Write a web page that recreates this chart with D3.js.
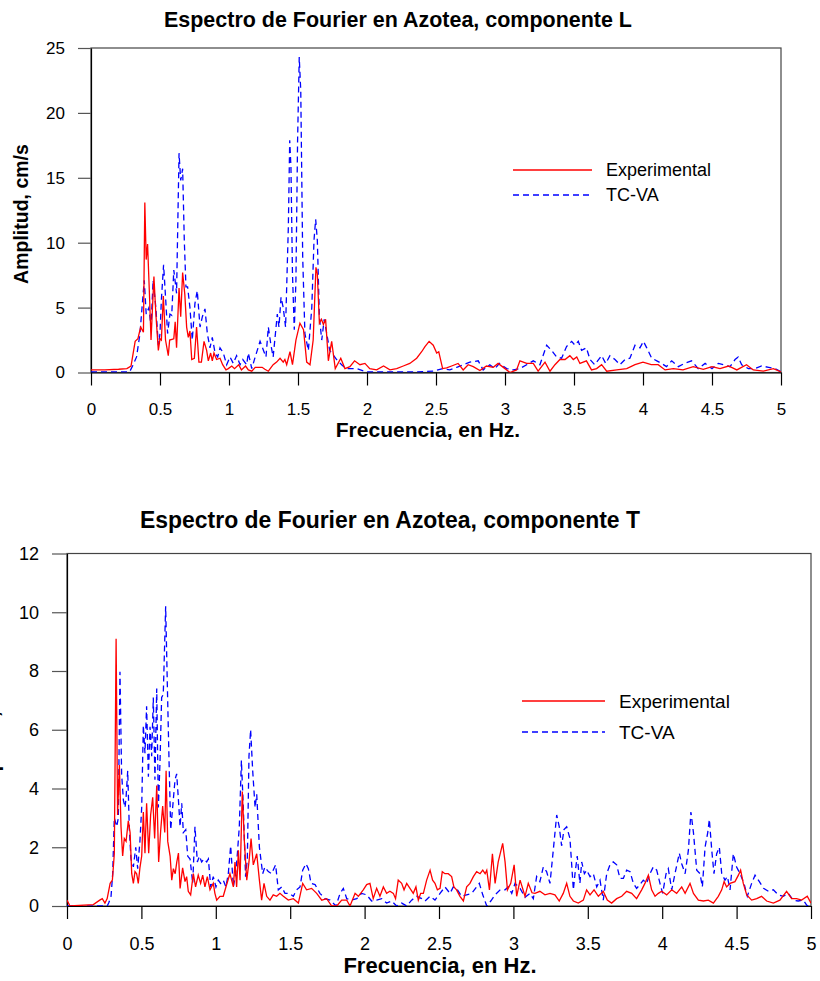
<!DOCTYPE html>
<html><head><meta charset="utf-8">
<script src="https://cdn.jsdelivr.net/npm/d3@7"></script>
<style>
html,body{margin:0;padding:0;background:#fff;}
text{font-family:Arial,"Liberation Sans",sans-serif;fill:#000;}
</style></head><body>
<svg id="chart" width="820" height="981"></svg>
<script>
const xTicks=[0,0.5,1,1.5,2,2.5,3,3.5,4,4.5,5];
const yTicksL=[0,5,10,15,20,25];
const yTicksT=[0,2,4,6,8,10,12];
const seriesNames=["Experimental","TC-VA"];
const titleL="Espectro de Fourier en Azotea, componente L";
const titleT="Espectro de Fourier en Azotea, componente T";
const xTitle="Frecuencia, en Hz.";
const yTitle="Amplitud, cm/s";

// [frecuencia Hz, amplitud cm/s]
const expL=[[0,0.2],[0.1,0.2],[0.2,0.25],[0.26,0.3],[0.29,0.5],[0.32,2.4],[0.34,2.6],[0.36,3.5],[0.38,3.1],[0.39,13.1],[0.40,8.7],[0.41,9.9],[0.425,5.6],[0.435,2.5],[0.456,7.4],[0.47,4.5],[0.488,1.7],[0.50,2.6],[0.51,2.5],[0.524,5.9],[0.54,2.5],[0.56,1.3],[0.57,2.5],[0.60,2.6],[0.61,3.9],[0.62,1.9],[0.638,6.5],[0.65,4.3],[0.664,7.7],[0.68,6.0],[0.693,3.5],[0.705,2.7],[0.717,3.2],[0.73,1.0],[0.749,1.1],[0.765,3.5],[0.782,0.8],[0.80,0.8],[0.819,2.4],[0.838,1.7],[0.85,0.9],[0.867,1.5],[0.879,0.9],[0.891,1.5],[0.91,1.0],[0.935,1.1],[0.954,0.6],[0.978,0.2],[0.995,0.3],[1.02,0.5],[1.04,0.3],[1.07,0.6],[1.09,0.2],[1.12,0.5],[1.14,0.2],[1.165,0.1],[1.19,0.4],[1.24,0.4],[1.26,0.25],[1.285,0.1],[1.32,0.6],[1.345,0.8],[1.37,1.1],[1.393,0.8],[1.405,1.0],[1.418,0.6],[1.442,1.6],[1.46,0.6],[1.485,2.5],[1.514,3.8],[1.54,3.3],[1.563,0.8],[1.587,0.6],[1.61,2.5],[1.63,8.1],[1.64,7.6],[1.655,3.8],[1.67,4.1],[1.684,3.7],[1.70,4.1],[1.72,0.9],[1.744,2.4],[1.77,0.3],[1.81,1.1],[1.84,0.3],[1.876,0.45],[1.91,0.9],[1.949,0.6],[1.985,0.7],[2.02,0.3],[2.07,0.2],[2.12,0.5],[2.166,0.2],[2.215,0.3],[2.263,0.5],[2.31,0.7],[2.36,1.1],[2.396,1.6],[2.42,2.0],[2.45,2.4],[2.48,2.1],[2.505,1.5],[2.52,1.6],[2.548,0.3],[2.577,0.35],[2.613,0.5],[2.66,0.7],[2.697,0.2],[2.733,0.6],[2.77,0.45],[2.818,0.15],[2.866,0.5],[2.915,0.4],[2.95,0.7],[3.0,0.3],[3.036,0.0],[3.084,0.2],[3.108,0.9],[3.157,0.7],[3.205,0.7],[3.24,0.1],[3.29,0.8],[3.326,0.1],[3.362,0.6],[3.398,1.0],[3.435,1.0],[3.47,1.3],[3.495,1.0],[3.52,1.2],[3.543,0.7],[3.59,0.9],[3.627,0.2],[3.664,0.3],[3.7,0.6],[3.737,0.1],[3.81,0.2],[3.882,0.3],[3.942,0.6],[4.0,0.8],[4.06,0.6],[4.11,0.6],[4.16,0.2],[4.22,0.3],[4.29,0.2],[4.364,0.45],[4.437,0.25],[4.5,0.45],[4.558,0.3],[4.62,0.5],[4.68,0.2],[4.75,0.6],[4.799,0.2],[4.872,0.1],[4.945,0.3],[5.0,0.05]];

const tcvaL=[[0,0.05],[0.28,0.05],[0.306,0.6],[0.33,1.2],[0.355,3.0],[0.372,5.3],[0.386,7.1],[0.40,4.5],[0.42,5.0],[0.435,3.5],[0.45,7.1],[0.47,5.0],[0.488,2.1],[0.50,3.0],[0.51,5.6],[0.526,8.3],[0.543,5.3],[0.555,3.0],[0.572,4.5],[0.585,4.4],[0.60,7.9],[0.62,6.1],[0.638,16.9],[0.65,14.8],[0.664,15.7],[0.676,10.2],[0.688,6.6],[0.70,6.6],[0.717,5.0],[0.734,2.5],[0.753,5.3],[0.77,6.3],[0.79,3.5],[0.807,4.3],[0.826,4.9],[0.843,3.0],[0.862,1.9],[0.879,2.7],[0.899,1.5],[0.918,1.2],[0.935,1.9],[0.959,1.5],[0.983,0.6],[1.007,1.2],[1.031,0.7],[1.055,1.3],[1.08,0.6],[1.10,1.0],[1.128,0.6],[1.14,1.5],[1.165,0.3],[1.19,1.2],[1.225,2.4],[1.25,1.7],[1.268,1.2],[1.285,3.5],[1.304,2.1],[1.32,1.2],[1.35,4.5],[1.362,3.5],[1.377,5.8],[1.393,5.0],[1.41,3.5],[1.43,11.2],[1.44,17.9],[1.449,15.8],[1.46,7.6],[1.473,3.3],[1.485,7.1],[1.497,17.9],[1.509,24.3],[1.52,21.7],[1.534,8.9],[1.55,3.0],[1.575,1.7],[1.6,5.0],[1.616,10.2],[1.628,11.8],[1.64,10.2],[1.655,4.3],[1.672,2.5],[1.69,4.1],[1.708,3.0],[1.73,1.7],[1.78,1.0],[1.816,0.6],[1.85,0.3],[1.925,0.3],[1.997,0.05],[2.09,0.05],[2.215,0.05],[2.36,0.05],[2.48,0.1],[2.553,0.3],[2.6,0.2],[2.65,0.4],[2.697,0.6],[2.745,0.8],[2.806,0.9],[2.842,0.2],[2.89,0.6],[2.927,0.3],[2.96,0.7],[3.012,0.3],[3.06,0.2],[3.108,0.3],[3.157,0.6],[3.205,0.9],[3.253,0.6],[3.302,2.1],[3.338,1.7],[3.374,1.2],[3.41,1.1],[3.446,2.0],[3.483,2.4],[3.507,2.1],[3.531,2.4],[3.555,1.7],[3.59,1.9],[3.616,1.0],[3.65,0.6],[3.7,1.3],[3.73,0.7],[3.76,1.3],[3.797,1.0],[3.833,0.6],[3.87,1.0],[3.905,1.1],[3.942,2.1],[3.978,1.9],[4.003,2.4],[4.027,1.9],[4.063,1.1],[4.1,0.9],[4.135,0.7],[4.17,0.45],[4.208,0.9],[4.256,0.45],[4.3,0.7],[4.352,0.9],[4.4,0.3],[4.45,0.7],[4.5,0.3],[4.546,0.7],[4.583,0.6],[4.63,0.45],[4.667,1.0],[4.69,1.2],[4.715,0.6],[4.763,0.3],[4.81,0.3],[4.86,0.5],[4.91,0.4],[4.957,0.3],[5.0,0.05]];

const expT=[[0,0.2],[0.02,0.0],[0.177,0.05],[0.22,0.2],[0.237,0.25],[0.255,0.1],[0.27,0.25],[0.29,0.77],[0.305,0.88],[0.318,1.78],[0.33,9.1],[0.34,3.1],[0.352,4.8],[0.363,2.7],[0.374,1.7],[0.385,2.3],[0.397,2.2],[0.412,2.9],[0.424,2.5],[0.435,1.1],[0.446,0.77],[0.457,1.17],[0.468,1.1],[0.479,0.77],[0.49,1.3],[0.502,1.7],[0.513,3.2],[0.524,1.8],[0.535,3.5],[0.549,1.8],[0.562,3.1],[0.576,3.7],[0.589,2.3],[0.603,4.1],[0.616,1.5],[0.63,2.6],[0.643,3.4],[0.657,2.5],[0.666,4.6],[0.677,2.2],[0.693,1.7],[0.704,0.88],[0.715,1.27],[0.727,1.1],[0.738,1.5],[0.749,1.8],[0.76,0.6],[0.777,1.3],[0.793,0.83],[0.804,1.0],[0.815,0.5],[0.831,0.38],[0.849,1.1],[0.864,0.65],[0.882,1.05],[0.898,0.77],[0.912,1.05],[0.927,0.65],[0.943,1.0],[0.961,0.55],[0.983,0.77],[0.994,0.43],[1.006,0.2],[1.028,0.33],[1.05,0.33],[1.073,0.73],[1.095,1.1],[1.118,0.65],[1.129,1.5],[1.14,0.65],[1.152,1.9],[1.163,0.88],[1.178,3.9],[1.192,2.2],[1.208,0.88],[1.223,1.5],[1.237,2.3],[1.252,1.4],[1.275,1.78],[1.293,0.88],[1.308,0.2],[1.324,0.77],[1.342,0.33],[1.364,0.2],[1.386,0.38],[1.409,0.33],[1.431,0.43],[1.454,0.33],[1.487,0.2],[1.521,0.25],[1.555,0.1],[1.584,0.77],[1.61,0.55],[1.644,0.6],[1.678,0.43],[1.712,0.2],[1.745,0.25],[1.779,0.0],[1.813,0.0],[1.846,0.2],[1.88,0.2],[1.902,0.0],[1.936,0.43],[1.958,0.33],[1.991,0.55],[2.014,0.73],[2.036,0.77],[2.058,0.25],[2.081,0.6],[2.103,0.33],[2.126,0.65],[2.148,0.43],[2.17,0.5],[2.193,0.43],[2.208,0.25],[2.226,0.88],[2.249,0.77],[2.265,0.55],[2.283,0.77],[2.305,0.6],[2.327,0.43],[2.345,0.65],[2.361,0.2],[2.377,0.43],[2.395,0.43],[2.417,0.88],[2.44,1.22],[2.457,0.88],[2.473,0.77],[2.489,0.55],[2.507,0.6],[2.522,1.17],[2.54,1.1],[2.562,1.1],[2.585,1.0],[2.6,0.65],[2.618,0.55],[2.641,0.33],[2.664,0.17],[2.686,0.65],[2.708,0.77],[2.731,1.0],[2.753,1.17],[2.776,1.1],[2.794,1.22],[2.81,1.1],[2.821,1.22],[2.839,0.55],[2.859,1.78],[2.877,0.77],[2.898,1.5],[2.928,2.13],[2.944,1.5],[2.96,0.55],[2.982,0.77],[3.005,1.4],[3.022,0.33],[3.045,0.88],[3.078,0.33],[3.1,0.77],[3.125,0.45],[3.145,0.43],[3.178,0.5],[3.212,0.38],[3.246,0.43],[3.279,0.38],[3.308,0.17],[3.335,0.43],[3.358,0.77],[3.38,0.33],[3.403,0.17],[3.436,0.1],[3.47,0.2],[3.492,0.55],[3.515,0.38],[3.542,0.55],[3.571,0.33],[3.604,0.5],[3.631,0.2],[3.66,0.1],[3.694,0.25],[3.728,0.33],[3.761,0.5],[3.795,0.43],[3.828,0.25],[3.862,0.55],[3.884,0.77],[3.907,1.05],[3.929,0.55],[3.952,0.33],[3.974,0.43],[3.997,0.5],[4.03,0.38],[4.064,0.55],[4.097,0.43],[4.131,0.65],[4.154,0.43],[4.187,0.77],[4.21,0.43],[4.243,0.2],[4.277,0.17],[4.31,0.2],[4.344,0.1],[4.377,0.33],[4.4,0.55],[4.416,0.83],[4.433,0.65],[4.456,0.77],[4.489,0.83],[4.512,1.05],[4.527,1.22],[4.545,0.77],[4.568,0.38],[4.601,0.2],[4.635,0.25],[4.668,0.33],[4.702,0.17],[4.747,0.1],[4.791,0.2],[4.836,0.5],[4.87,0.25],[4.903,0.25],[4.937,0.2],[4.975,0.33],[5.0,0.1]];

const tcvaT=[[0,0.0],[0.27,0.0],[0.28,0.1],[0.296,0.33],[0.307,1.1],[0.318,3.0],[0.334,2.7],[0.345,3.0],[0.356,7.97],[0.367,4.5],[0.379,3.6],[0.39,3.35],[0.397,3.7],[0.408,4.6],[0.419,2.6],[0.43,1.6],[0.446,1.33],[0.462,2.0],[0.475,1.27],[0.49,2.2],[0.502,3.35],[0.513,6.15],[0.524,5.2],[0.535,6.8],[0.547,4.4],[0.558,6.1],[0.569,5.1],[0.58,7.1],[0.591,4.3],[0.603,7.4],[0.614,3.35],[0.625,4.9],[0.636,7.1],[0.647,7.2],[0.663,10.2],[0.674,7.6],[0.685,5.1],[0.697,2.6],[0.71,3.35],[0.726,4.3],[0.737,4.5],[0.749,3.6],[0.76,2.7],[0.771,3.5],[0.782,2.5],[0.798,2.6],[0.811,1.7],[0.827,1.6],[0.845,0.77],[0.86,2.7],[0.876,1.5],[0.89,1.7],[0.905,1.5],[0.921,1.6],[0.939,1.5],[0.95,1.6],[0.966,0.65],[0.983,1.0],[1.001,0.65],[1.017,0.88],[1.032,0.77],[1.05,0.88],[1.068,0.65],[1.084,1.1],[1.1,2.05],[1.118,0.65],[1.133,1.1],[1.145,1.78],[1.158,2.7],[1.172,4.95],[1.185,3.35],[1.2,1.0],[1.212,1.6],[1.223,5.1],[1.234,6.0],[1.248,4.6],[1.264,3.35],[1.275,3.8],[1.293,2.0],[1.315,1.1],[1.33,1.33],[1.353,1.17],[1.375,1.1],[1.402,1.4],[1.42,0.55],[1.443,0.65],[1.465,0.43],[1.494,0.43],[1.521,0.33],[1.543,0.55],[1.566,0.65],[1.584,1.22],[1.606,1.44],[1.622,1.27],[1.64,0.77],[1.667,0.73],[1.7,0.43],[1.734,0.25],[1.768,0.2],[1.808,0.0],[1.835,0.43],[1.857,0.6],[1.88,0.25],[1.913,0.2],[1.947,0.25],[1.98,0.43],[2.014,0.38],[2.047,0.17],[2.081,0.2],[2.115,0.25],[2.148,0.1],[2.182,0.17],[2.215,0.0],[2.249,0.1],[2.283,0.0],[2.316,0.2],[2.35,0.33],[2.384,0.25],[2.406,0.17],[2.44,0.33],[2.473,0.2],[2.507,0.43],[2.54,0.65],[2.574,0.43],[2.596,0.65],[2.618,0.6],[2.652,0.33],[2.686,0.38],[2.72,0.43],[2.753,0.65],[2.771,0.77],[2.794,0.38],[2.821,0.0],[2.848,0.17],[2.877,0.38],[2.911,0.55],[2.944,0.55],[2.966,0.65],[2.989,0.43],[3.011,0.77],[3.045,0.6],[3.078,0.3],[3.111,0.43],[3.134,0.25],[3.156,1.0],[3.178,0.83],[3.201,1.33],[3.223,1.17],[3.246,0.77],[3.268,1.9],[3.291,3.1],[3.308,2.7],[3.324,2.05],[3.34,2.6],[3.358,2.7],[3.38,2.3],[3.403,0.55],[3.414,1.1],[3.429,1.7],[3.447,0.77],[3.459,1.5],[3.477,1.1],[3.492,1.22],[3.515,1.0],[3.537,1.1],[3.56,0.65],[3.582,0.88],[3.604,0.2],[3.627,1.1],[3.649,1.4],[3.671,1.5],[3.694,1.4],[3.716,0.94],[3.739,0.94],[3.761,1.22],[3.784,1.17],[3.806,0.77],[3.828,0.6],[3.851,0.73],[3.873,0.88],[3.895,0.77],[3.918,1.1],[3.94,1.33],[3.963,1.22],[3.985,0.77],[4.003,0.43],[4.026,1.1],[4.041,1.27],[4.064,0.55],[4.086,1.1],[4.115,1.8],[4.131,1.44],[4.154,1.1],[4.176,1.9],[4.193,3.2],[4.21,2.5],[4.232,1.22],[4.254,1.1],[4.27,0.65],[4.288,2.0],[4.306,2.5],[4.317,2.95],[4.333,1.9],[4.348,1.1],[4.366,1.78],[4.384,2.0],[4.4,1.1],[4.422,0.88],[4.438,1.0],[4.456,0.55],[4.478,1.78],[4.5,1.33],[4.523,1.1],[4.55,0.77],[4.572,0.33],[4.601,0.77],[4.624,1.05],[4.653,0.83],[4.681,0.6],[4.714,0.5],[4.747,0.55],[4.78,0.38],[4.814,0.33],[4.847,0.43],[4.881,0.2],[4.914,0.17],[4.948,0.2],[4.975,0.0],[5.0,0.1]];

const svg=d3.select("#chart");

function panel(cfg){
  const g=svg.append("g");
  const x=d3.scaleLinear().domain([0,5]).range([cfg.left,cfg.right]);
  const y=d3.scaleLinear().domain([0,cfg.ymax]).range([cfg.bottom,cfg.top]);
  const cid="clip"+cfg.id;
  svg.append("defs").append("clipPath").attr("id",cid).append("rect")
    .attr("x",cfg.left).attr("y",cfg.top-2).attr("width",cfg.right-cfg.left).attr("height",cfg.bottom-cfg.top+2);
  g.append("rect").attr("x",cfg.left).attr("y",cfg.top).attr("width",cfg.right-cfg.left).attr("height",cfg.bottom-cfg.top)
    .attr("fill","none").attr("stroke","#444").attr("stroke-width",1.2);
  const ya=g.append("g").attr("transform",`translate(${cfg.left},0)`)
    .call(d3.axisLeft(y).tickValues(cfg.yTicks).tickSize(cfg.yTickLen).tickSizeOuter(0).tickPadding(cfg.yPad).tickFormat(d=>d));
  ya.select(".domain").attr("stroke","#000").attr("stroke-width",1.2);
  ya.selectAll(".tick line").attr("stroke","#555").attr("stroke-width",1.2);
  ya.selectAll(".tick text").attr("font-size",cfg.tickFont).attr("font-family","Arial, Liberation Sans").attr("fill","#000");
  const xa=g.append("g").attr("transform",`translate(0,${cfg.bottom})`)
    .call(d3.axisBottom(x).tickValues(xTicks).tickSize(13).tickSizeOuter(0).tickPadding(cfg.xPad).tickFormat(d=>d));
  xa.select(".domain").attr("stroke","#000").attr("stroke-width",1.2);
  xa.selectAll(".tick line").attr("stroke","#000").attr("stroke-width",1.2);
  xa.selectAll(".tick text").attr("font-size",cfg.tickFont).attr("font-family","Arial, Liberation Sans").attr("fill","#000");
  const line=d3.line().x(d=>x(d[0])).y(d=>y(d[1]));
  const lg=g.append("g").attr("clip-path",`url(#${cid})`);
  lg.append("path").datum(cfg.tcva).attr("d",line).attr("fill","none").attr("stroke","#0000ff")
    .attr("stroke-width",1.3).attr("stroke-dasharray","6,4");
  lg.append("path").datum(cfg.exp).attr("d",line).attr("fill","none").attr("stroke","#ff0000")
    .attr("stroke-width",1.3);
  g.append("text").attr("x",cfg.titleX).attr("y",cfg.titleY).attr("font-size",cfg.titleFont).attr("font-weight","bold")
    .attr("textLength",cfg.titleLen).attr("lengthAdjust","spacingAndGlyphs").text(cfg.title);
  g.append("text").attr("x",cfg.xTitleX).attr("y",cfg.xTitleY).attr("text-anchor","middle").attr("font-size",cfg.xAxisFont)
    .attr("font-weight","bold").text(xTitle);
  g.append("text").attr("transform",`translate(${cfg.yTitleX},${cfg.yTitleY}) rotate(-90)`).attr("text-anchor","middle")
    .attr("font-size",cfg.yAxisFont).attr("font-weight","bold").text(yTitle);
  const L=cfg.legend;
  [[cfg.exp,"#ff0000",null],[cfg.tcva,"#0000ff","6,4"]].forEach((s,i)=>{
    const yy=L.y+i*L.dy;
    g.append("line").attr("x1",L.x1).attr("x2",L.x2).attr("y1",yy).attr("y2",yy)
      .attr("stroke",s[1]).attr("stroke-width",1.3).attr("stroke-dasharray",s[2]);
    g.append("text").attr("x",L.tx).attr("y",yy).attr("dy","0.35em").attr("font-size",L.font).text(seriesNames[i]);
  });
}

panel({id:"L",left:91,right:781,top:48,bottom:372.5,ymax:25,yTicks:yTicksL,yTickLen:13,yPad:13,xPad:17,tickFont:17,
  exp:expL,tcva:tcvaL,title:titleL,titleX:164,titleY:27,titleFont:22,titleLen:468,
  xTitleX:428,xTitleY:437,xAxisFont:21,yAxisFont:19.5,yTitleX:28,yTitleY:214,
  legend:{x1:513,x2:592,y:170,dy:25,tx:606,font:18}});
panel({id:"T",left:67,right:811,top:553.5,bottom:906,ymax:12,yTicks:yTicksT,yTickLen:15,yPad:13,xPad:18,tickFont:18,
  exp:expT,tcva:tcvaT,title:titleT,titleX:140,titleY:528,titleFont:23,titleLen:500,
  xTitleX:440,xTitleY:973,xAxisFont:22,yAxisFont:20,yTitleX:-1,yTitleY:732,
  legend:{x1:522,x2:605,y:701,dy:31,tx:619,font:19}});
</script>
</body></html>
